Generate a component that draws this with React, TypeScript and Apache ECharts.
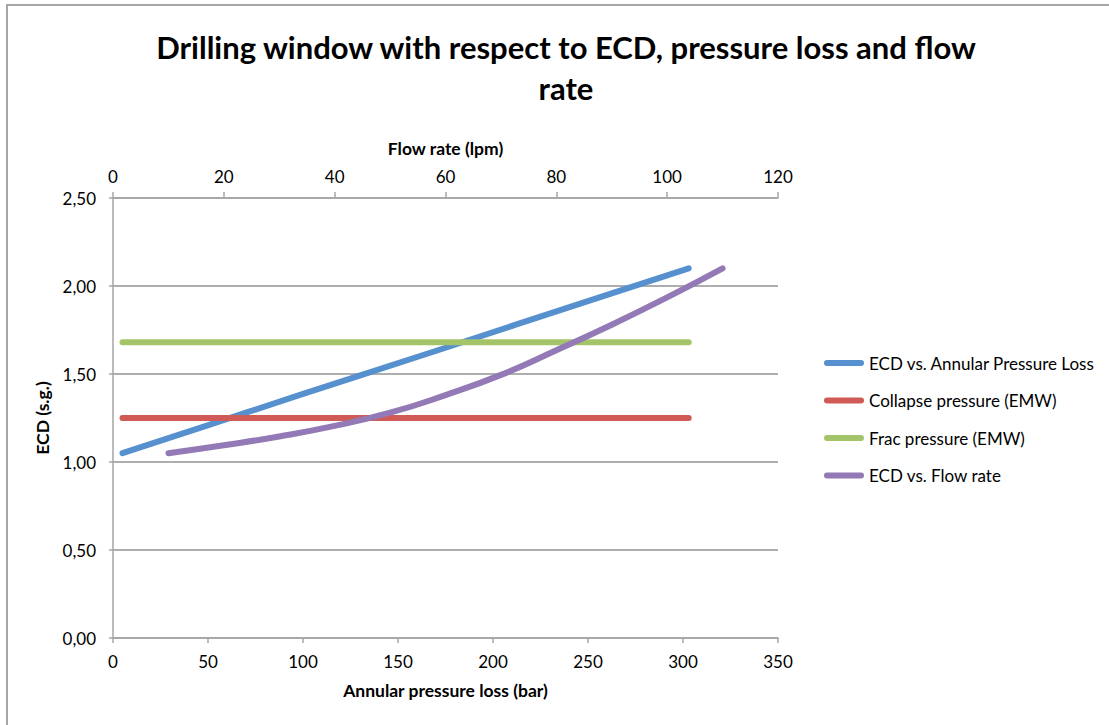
import React, { useEffect, useRef } from 'react';
import * as echarts from 'echarts';

// Flow rate (lpm) – top axis
const flowRate = [10, 20, 30, 40, 50, 60, 70, 80, 90, 100, 110];
// Annular pressure loss (bar) – bottom axis
const annularLoss = [5, 17.5, 32, 49, 70, 98, 131, 171, 212, 256, 303];
// ECD (s.g.)
const ecdValues = [1.05, 1.095, 1.145, 1.205, 1.28, 1.38, 1.495, 1.635, 1.78, 1.935, 2.1];
// Pressure limits (EMW)
const limitRange = [5, 303];
const collapsePressure = 1.25;
const fracPressure = 1.68;

const yTicks = { min: 0, max: 2.5, interval: 0.5 };
const xBottomTicks = { min: 0, max: 350, interval: 50 };
const xTopTicks = { min: 0, max: 120, interval: 20 };

const seriesNames = [
  'ECD vs. Annular Pressure Loss',
  'Collapse pressure (EMW)',
  'Frac pressure (EMW)',
  'ECD vs. Flow rate',
];
const colors = ['#5690ce', '#d05a55', '#a4c46a', '#9379b5'];

const FONT = 'Lato';
const AXIS_GRAY = '#a6a6a6';

export default function App() {
  const ref = useRef<HTMLDivElement>(null);
  useEffect(() => {
    const chart = echarts.init(ref.current!, null, { renderer: 'svg' });
    const labelStyle = { fontFamily: FONT, fontSize: 17, color: '#000' };
    const nameStyle = { fontFamily: FONT, fontSize: 17.5, fontWeight: 'bold', color: '#000' };
    const lineSeries = (i: number, data: number[][], xAxisIndex: number, smooth: boolean) => ({
      name: seriesNames[i],
      type: 'line',
      xAxisIndex,
      data,
      showSymbol: false,
      symbol: 'none',
      smooth,
      lineStyle: { width: 6, color: colors[i], cap: 'round', join: 'round' },
      itemStyle: { color: colors[i] },
    });
    chart.setOption({
      animation: false,
      backgroundColor: '#fff',
      title: {
        text: 'Drilling window with respect to ECD, pressure loss and flow\nrate',
        left: 561,
        top: 21,
        textAlign: 'center',
        textStyle: { fontFamily: FONT, fontWeight: 'bold', fontSize: 31, lineHeight: 41, color: '#000' },
      },
      graphic: [
        {
          type: 'rect',
          silent: true,
          z: -10,
          shape: { x: 7, y: 5, width: 1300, height: 900 },
          style: { fill: 'none', stroke: AXIS_GRAY, lineWidth: 2 },
        },
      ],
      legend: {
        orient: 'vertical',
        left: 819,
        top: 348,
        itemWidth: 40,
        itemHeight: 6,
        itemGap: 17.5,
        icon: 'path://M3,0 L37,0 A3,3 0 0 1 37,6 L3,6 A3,3 0 0 1 3,0 Z',
        textStyle: { fontFamily: FONT, fontSize: 17, color: '#000', lineHeight: 20 },
        data: seriesNames,
      },
      grid: { left: 113, right: 331, top: 198, bottom: 87 },
      xAxis: [
        {
          type: 'value',
          position: 'bottom',
          ...xBottomTicks,
          name: 'Annular pressure loss (bar)',
          nameLocation: 'middle',
          nameGap: 43,
          nameTextStyle: nameStyle,
          axisLine: { show: true, onZero: false, lineStyle: { color: AXIS_GRAY, width: 1.5 } },
          axisTick: { show: true, length: 5, lineStyle: { color: AXIS_GRAY, width: 1.5 } },
          axisLabel: { ...labelStyle, margin: 15 },
          splitLine: { show: false },
        },
        {
          type: 'value',
          position: 'top',
          ...xTopTicks,
          name: 'Flow rate (lpm)',
          nameLocation: 'middle',
          nameGap: 41,
          nameTextStyle: nameStyle,
          axisLine: { show: true, onZero: false, lineStyle: { color: AXIS_GRAY, width: 1.5 } },
          axisTick: { show: true, length: 6, lineStyle: { color: AXIS_GRAY, width: 1.5 } },
          axisLabel: { ...labelStyle, margin: 13 },
          splitLine: { show: false },
        },
      ],
      yAxis: {
        type: 'value',
        ...yTicks,
        name: 'ECD (s.g.)',
        nameLocation: 'middle',
        nameGap: 55,
        nameTextStyle: nameStyle,
        axisLine: { show: true, lineStyle: { color: AXIS_GRAY, width: 1.5 } },
        axisTick: { show: true, length: 4, lineStyle: { color: AXIS_GRAY, width: 1.5 } },
        axisLabel: {
          ...labelStyle,
          margin: 17,
          formatter: (v: number) => v.toFixed(2).replace('.', ','),
        },
        splitLine: { show: true, lineStyle: { color: '#939393', width: 1.5 } },
      },
      series: [
        lineSeries(0, annularLoss.map((x, i) => [x, ecdValues[i]]), 0, false),
        lineSeries(1, limitRange.map((x) => [x, collapsePressure]), 0, false),
        lineSeries(2, limitRange.map((x) => [x, fracPressure]), 0, false),
        lineSeries(3, flowRate.map((x, i) => [x, ecdValues[i]]), 1, true),
      ],
    });
    return () => chart.dispose();
  }, []);
  return (
    <div
      ref={ref}
      style={{ position: 'fixed', left: 0, top: 0, width: 1109, height: 725, background: '#fff' }}
    />
  );
}
